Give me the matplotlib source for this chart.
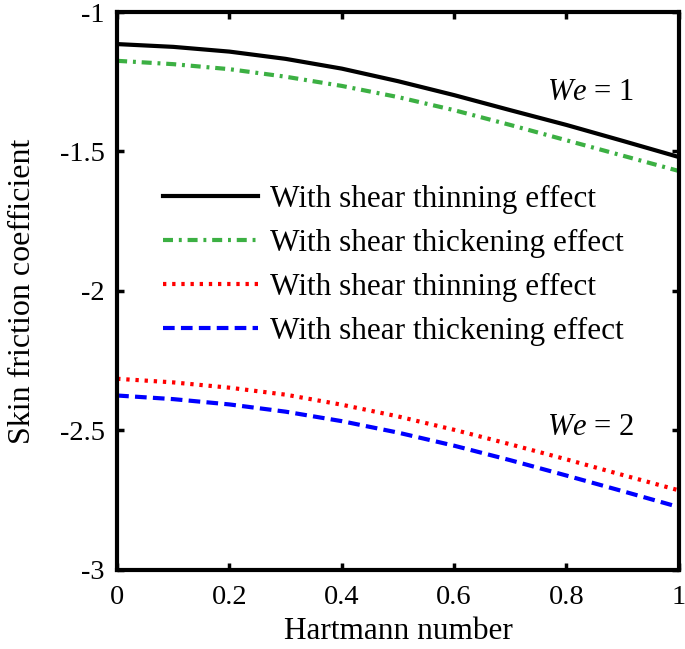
import numpy as np
import matplotlib
matplotlib.use("Agg")
import matplotlib.pyplot as plt

plt.rcParams['font.family'] = ['Liberation Serif', 'DejaVu Serif']
plt.rcParams['mathtext.fontset'] = 'custom'
plt.rcParams['mathtext.it'] = 'Liberation Serif:italic'
plt.rcParams['mathtext.rm'] = 'Liberation Serif'

# Hartmann number
ha = [0.0, 0.1, 0.2, 0.3, 0.4, 0.5, 0.6, 0.7, 0.8, 0.9, 1.0]

# We = 1
thin_we1 = [-1.115, -1.125, -1.142, -1.168, -1.203, -1.248, -1.298, -1.352, -1.405, -1.462, -1.520]
thick_we1 = [-1.175, -1.187, -1.205, -1.232, -1.265, -1.305, -1.352, -1.405, -1.460, -1.515, -1.570]
# We = 2
thin_we2 = [-2.315, -2.328, -2.347, -2.372, -2.408, -2.450, -2.498, -2.550, -2.604, -2.660, -2.715]
thick_we2 = [-2.375, -2.388, -2.407, -2.433, -2.467, -2.508, -2.555, -2.607, -2.662, -2.718, -2.775]

labels = ['With shear thinning effect', 'With shear thickening effect',
          'With shear thinning effect', 'With shear thickening effect']

xticks = [0, 0.2, 0.4, 0.6, 0.8, 1]
xticklabels = ['0', '0.2', '0.4', '0.6', '0.8', '1']
yticks = [-3, -2.5, -2, -1.5, -1]
yticklabels = ['-3', '-2.5', '-2', '-1.5', '-1']

fig = plt.figure(figsize=(6.85, 6.49), dpi=100)
ax = fig.add_axes([0.171, 0.122, 0.82, 0.8595])

ax.plot(ha, thin_we1, color='black', lw=3, ls='-', label=labels[0])
ax.plot(ha, thick_we1, color='#3cb043', lw=3, ls=(0, (2.4, 1.4, 0.7, 1.4)), label=labels[1])
ax.plot(ha, thin_we2, color='red', lw=3, ls=(0, (0.8, 1.4)), label=labels[2])
ax.plot(ha, thick_we2, color='blue', lw=3, ls=(0, (2.8, 1.5)), label=labels[3])

ax.set_xlim(0, 1)
ax.set_ylim(-3, -1)
ax.set_xticks(xticks)
ax.set_xticklabels(xticklabels)
ax.set_yticks(yticks)
ax.set_yticklabels(yticklabels)
ax.tick_params(direction='in', length=5, width=2.5, labelsize=20.5,
               top=True, right=True)
ax.tick_params(axis='x', pad=11)
ax.tick_params(axis='y', pad=9)
for s in ax.spines.values():
    s.set_linewidth(3)

ax.set_xlabel('Hartmann number', fontsize=22.5, labelpad=5)
ax.set_ylabel('Skin friction coefficient', fontsize=23, labelpad=16)

ax.text(0.842, 0.855, r'$\mathit{We}$ = 1', fontsize=22, transform=ax.transAxes,
        ha='center', va='center')
ax.text(0.842, 0.2545, r'$\mathit{We}$ = 2', fontsize=22, transform=ax.transAxes,
        ha='center', va='center')

ax.legend(loc='upper left', bbox_to_anchor=(0.0596, 0.712), frameon=False,
          fontsize=22.5, handlelength=3.04, handletextpad=0.38, labelspacing=0.48,
          borderaxespad=0)

fig.savefig('out.png', dpi=100)
